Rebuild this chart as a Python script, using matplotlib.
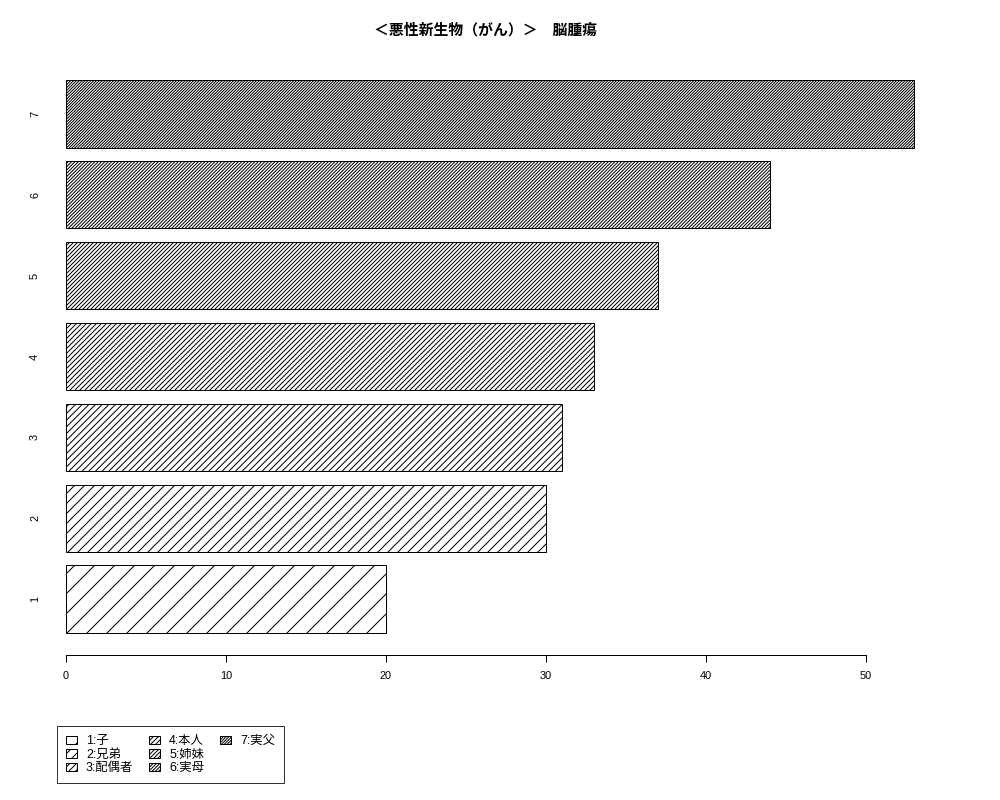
import matplotlib
matplotlib.use("Agg")
import matplotlib.pyplot as plt
from matplotlib.patches import Patch

categories = ["1", "2", "3", "4", "5", "6", "7"]
values = [20, 30, 31, 33, 37, 44, 53]
legend_labels = ["1:子", "2:兄弟", "3:配偶者", "4:本人", "5:姉妹", "6:実母", "7:実父"]
title = "＜悪性新生物（がん）＞　脳腫瘍"
xticks = [0, 10, 20, 30, 40, 50]

DPI = 120
plt.rcParams['font.family'] = ['Liberation Sans', 'Noto Sans CJK JP']
plt.rcParams['hatch.linewidth'] = 0.6

fig = plt.figure(figsize=(1000 / DPI, 800 / DPI), dpi=DPI)
ax = fig.add_axes([0.032, 1 - 655 / 800, 0.948 - 0.032, (655 - 58) / 800])

pos = [0.7 + 1.2 * i for i in range(len(values))]
hatches = ['//' * (i + 1) for i in range(len(values))]
for p, v, h in zip(pos, values, hatches):
    ax.barh(p, v, height=1.0, left=0, facecolor='white', edgecolor='black',
            linewidth=0.6, hatch=h)

ax.set_xlim(-0.04 * 53, 53 * 1.04)
ax.set_ylim(0.2 - 0.04 * 8.2, 8.4 + 0.04 * 8.2)

for s in ['top', 'right', 'left']:
    ax.spines[s].set_visible(False)
ax.spines['bottom'].set_bounds(0, 50)
ax.spines['bottom'].set_linewidth(0.6)

ax.set_xticks(xticks)
ax.set_xticklabels([str(t) for t in xticks], fontsize=6.6)
ax.tick_params(axis='x', length=4.2, width=0.6, pad=5.5)

ax.set_yticks(pos)
ax.set_yticklabels(categories, rotation=90, fontsize=6.6, va='center')
ax.tick_params(axis='y', length=0, pad=-4.8)

fig.text(0.486, 1 - 30 / 800, title, ha='center', va='center',
         fontsize=8.9, fontweight='bold')

handles = [Patch(facecolor='white', edgecolor='black', linewidth=0.6, hatch=h)
           for h in hatches]
labels = list(legend_labels)
# pad with invisible entries so columns fill 3, 3, 1 like the reference
for _ in range(2):
    handles.append(Patch(facecolor='none', edgecolor='none'))
    labels.append('')
leg = fig.legend(handles, labels, ncol=3, loc='upper left',
                 bbox_to_anchor=(0.057, 1 - 726 / 800), fontsize=7.4,
                 frameon=True, fancybox=False, edgecolor='black',
                 handlelength=0.9, handleheight=0.7, handletextpad=0.7,
                 columnspacing=1.3, labelspacing=0.12, borderpad=0.75,
                 borderaxespad=0)
leg.get_frame().set_linewidth(0.6)

fig.savefig("out.png", dpi=DPI)
